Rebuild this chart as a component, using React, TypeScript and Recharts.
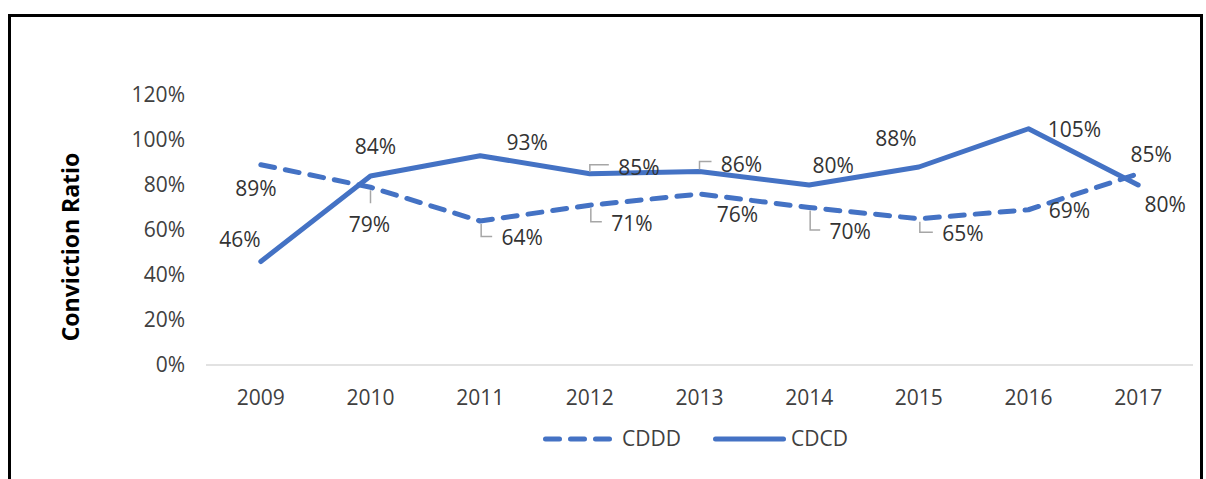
import { LineChart, Line, XAxis, YAxis, LabelList } from "recharts";

const YEARS = ["2009", "2010", "2011", "2012", "2013", "2014", "2015", "2016", "2017"];
const CDDD = [89, 79, 64, 71, 76, 70, 65, 69, 85];
const CDCD = [46, 84, 93, 85, 86, 80, 88, 105, 80];
const Y_TICKS = [0, 20, 40, 60, 80, 100, 120];

const data = YEARS.map((year, i) => ({ year, CDDD: CDDD[i], CDCD: CDCD[i] }));

// label placement, roughly as Excel put them (offset from the point to the text centre)
const CDDD_OFFSETS = [[-5, 24], [-1, 37], [42, 17], [42, 18], [38, 21], [41, 24], [44, 15], [41, 1], [13, -19]];
const CDDD_LEADERS = ["", "drop", "down", "down", "", "down", "down", "", ""];
const CDCD_OFFSETS = [[-21, -22], [5, -29], [47, -13], [49, -6], [42, -7], [24, -19], [-23, -28], [46, 1], [27, 20]];
const CDCD_LEADERS = ["", "", "", "up", "up", "", "", "", ""];

const BLUE = "#4472C4";
const FONT = "'Open Sans', sans-serif";
const TEXT = "#404040";
const LEADER = "#A6A6A6";

function makeLabel(offsets: number[][], leaders: string[]) {
  return (props: any) => {
    const { x, y, value, index } = props;
    const [dx, dy] = offsets[index];
    const tx = x + dx;
    const ty = y + dy;
    const half = String(value).length > 2 ? 27 : 21;
    let d = "";
    if (leaders[index] === "drop") d = `M${x},${y + 3} V${y + 16}`;
    if (leaders[index] === "down") d = `M${x + 1},${y + 3} V${ty - 1.5} H${tx - half - 9}`;
    if (leaders[index] === "up") d = `M${x},${y - 2} V${ty - 3} H${tx - half - 9}`;
    return (
      <g>
        {d && <path d={d} fill="none" stroke={LEADER} strokeWidth={1.5} />}
        <text x={tx} y={ty} dy="0.35em" textAnchor="middle" fontSize={21} fontFamily={FONT} fill="#333">
          {value}%
        </text>
      </g>
    );
  };
}

export default function App() {
  return (
    <div style={{ position: "relative", width: 1206, height: 479, overflow: "hidden", background: "#fff" }}>
      <style>{`body{margin:0;overflow:hidden}`}</style>
      {/* frame */}
      <div
        style={{
          position: "absolute",
          left: 8,
          top: 14,
          width: 1195,
          height: 480,
          border: "3px solid #000",
          boxSizing: "border-box",
        }}
      />
      <div style={{ position: "absolute", left: 0, top: 0 }}>
        <LineChart width={1206} height={479} data={data} margin={{ top: 95, right: 13, bottom: 74, left: 0 }}>
          <XAxis
            dataKey="year"
            scale="band"
            height={40}
            axisLine={{ stroke: "#D9D9D9", strokeWidth: 1.5 }}
            tickLine={false}
            tickSize={0}
            tickMargin={25}
            tick={{ fill: TEXT, fontSize: 21, fontFamily: FONT }}
          />
          <YAxis
            width={206}
            domain={[0, 120]}
            ticks={Y_TICKS}
            tickFormatter={(v) => `${v}%`}
            axisLine={false}
            tickLine={false}
            tickSize={0}
            tickMargin={21}
            tick={{ fill: TEXT, fontSize: 21, fontFamily: FONT }}
          />
          <Line
            dataKey="CDDD"
            stroke={BLUE}
            strokeWidth={5}
            strokeDasharray="14 11"
            strokeLinecap="round"
            strokeLinejoin="round"
            dot={false}
            isAnimationActive={false}
          >
            <LabelList dataKey="CDDD" content={makeLabel(CDDD_OFFSETS, CDDD_LEADERS)} />
          </Line>
          <Line
            dataKey="CDCD"
            stroke={BLUE}
            strokeWidth={5}
            strokeLinecap="round"
            strokeLinejoin="round"
            dot={false}
            isAnimationActive={false}
          >
            <LabelList dataKey="CDCD" content={makeLabel(CDCD_OFFSETS, CDCD_LEADERS)} />
          </Line>
        </LineChart>
      </div>
      {/* axis title and legend */}
      <svg width={1206} height={479} style={{ position: "absolute", left: 0, top: 0, pointerEvents: "none" }}>
        <text
          transform="translate(71,247) rotate(-90)"
          textAnchor="middle"
          dy="0.35em"
          fontSize={23}
          fontWeight="bold"
          fontFamily={FONT}
          fill="#000"
        >
          Conviction Ratio
        </text>
        <line x1={545.5} x2={610.5} y1={439} y2={439} stroke={BLUE} strokeWidth={5} strokeDasharray="14 11" strokeLinecap="round" />
        <text x={622} y={439} dy="0.35em" fontSize={21} fontFamily={FONT} fill={TEXT}>
          CDDD
        </text>
        <line x1={715.5} x2={783.5} y1={439} y2={439} stroke={BLUE} strokeWidth={5} strokeLinecap="round" />
        <text x={791} y={439} dy="0.35em" fontSize={21} fontFamily={FONT} fill={TEXT}>
          CDCD
        </text>
      </svg>
    </div>
  );
}
